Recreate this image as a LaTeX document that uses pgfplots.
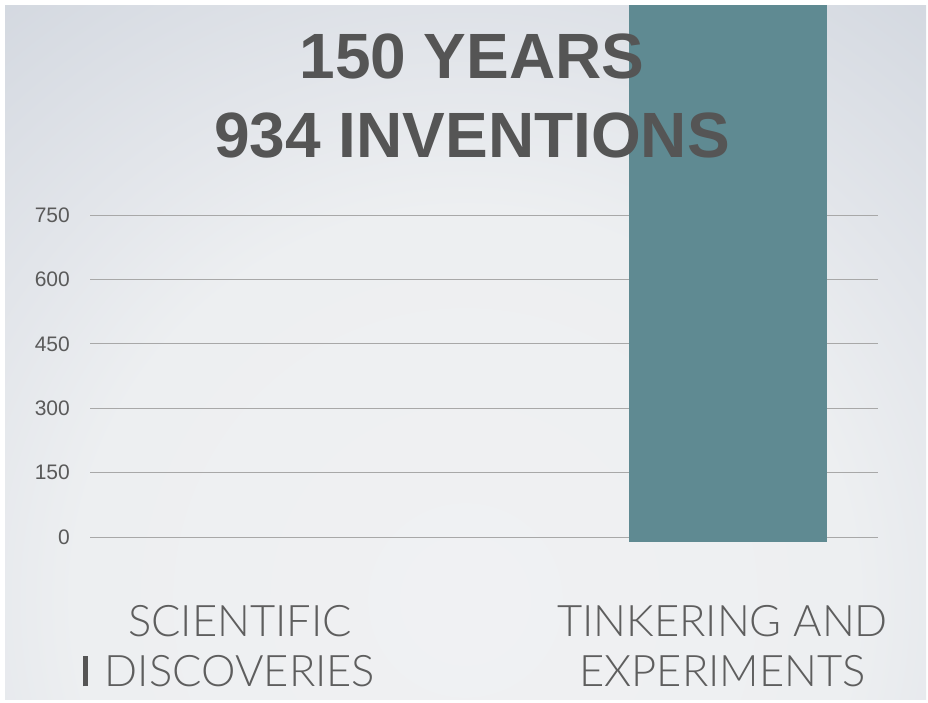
\documentclass[border=0pt]{standalone}
\usepackage{fontspec}
\setmainfont{Liberation Sans}
\newfontfamily\catfont{Lato Light}
\usepackage{pgfplots}
\pgfplotsset{compat=1.18}
\definecolor{barc}{HTML}{5F8A92}
\definecolor{ttl}{HTML}{555555}
\definecolor{tickc}{HTML}{5A5A5A}
\definecolor{catc}{HTML}{5E5E5E}
\definecolor{grd}{HTML}{A8A8A8}
\definecolor{bga}{HTML}{F0F1F3}
\definecolor{bgb}{HTML}{EDEFF1}
\definecolor{bgc}{HTML}{E2E5EA}
\definecolor{bgd}{HTML}{D2D7DF}
\pgfdeclareradialshading{slidebg}{\pgfpoint{0bp}{0bp}}{color(0bp)=(bga); color(12.5bp)=(bgb); color(17.5bp)=(bgc); color(25bp)=(bgd); color(50bp)=(bgd)}
\begin{document}
\begin{tikzpicture}[x=1pt,y=1pt]
\fill[white] (0,0) rectangle (928,-702);
\begin{scope}
\clip (5,-5) rectangle (926,-699);
\shade[shading=slidebg] (-315,180) rectangle (1245,-1380);
\end{scope}
\begin{axis}[
  at={(90pt,-545.587pt)}, anchor=south west,
  scale only axis, width=788pt, height=540.53pt,
  xmin=-0.30738, xmax=1.30738, ymin=-20, ymax=1239,
  axis line style={draw=none},
  tick style={draw=none},
  ytick={0,150,300,450,600,750},
  ymajorgrids, major grid style={color=grd, line width=1pt},
  /pgf/number format/assume math mode=true,
  yticklabel style={font=\fontsize{21}{21}\selectfont, text=tickc, anchor=east, inner sep=0pt, xshift=-20pt},
  xtick={0,1},
  xticklabels={{SCIENTIFIC\\\llap{\textcolor{ttl}{\rule{4.5pt}{30pt}}\hspace{17pt}}DISCOVERIES},{TINKERING AND\kern11pt\\EXPERIMENTS\kern11pt}},
  xticklabel style={font=\catfont\fontsize{43.5}{50}\selectfont, text=catc, align=center, anchor=north, inner sep=0pt, yshift=-59.4pt},
]
\addplot[ybar, bar width=198pt, fill=barc, draw=none, yshift=-5pt] coordinates {(1,1300)};
\end{axis}
\node[anchor=base, font=\bfseries\fontsize{64}{64}\selectfont, text=ttl, inner sep=0pt] at (472,-78) {150 YEARS};
\node[anchor=base, font=\bfseries\fontsize{64}{64}\selectfont, text=ttl, inner sep=0pt] at (472,-157) {934 INVENTIONS};
\end{tikzpicture}
\end{document}
